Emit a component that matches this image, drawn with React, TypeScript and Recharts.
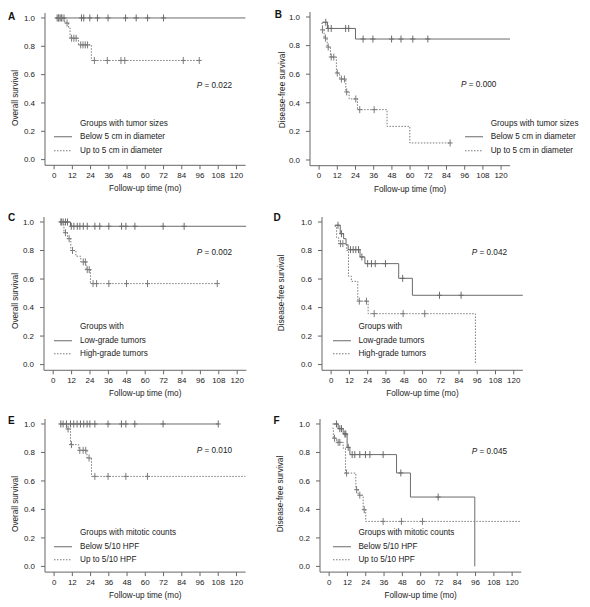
import { LineChart, Line, XAxis, YAxis } from "recharts";

// each row: [months, survival, censored (1 = tick mark)]
type Row = [number, number, number];

const monthTicks = [0, 12, 24, 36, 48, 60, 72, 84, 96, 108, 120];
const survTicks = [0, 0.2, 0.4, 0.6, 0.8, 1.0];

const sizeGroups = ["Below 5 cm in diameter", "Up to 5 cm in diameter"];
const gradeGroups = ["Low-grade tumors", "High-grade tumors"];
const mitosisGroups = ["Below 5/10 HPF", "Up to 5/10 HPF"];

const pValues = ["0.022", "0.000", "0.002", "0.042", "0.010", "0.045"];

// A - overall survival by tumor size
const aBelow: Row[] = [
  [1, 1, 0], [2, 1, 1], [3, 1, 1], [4, 1, 1], [5, 1, 1], [6.5, 1, 1],
  [18, 1, 1], [19.5, 1, 1], [23.5, 1, 1], [28.5, 1, 1], [35.5, 1, 1],
  [47, 1, 1], [54, 1, 1], [61.5, 1, 1], [72, 1, 1], [126, 1, 0],
];
const aUpTo: Row[] = [
  [1, 1, 0], [3, 1, 1], [5, 1, 1], [7, 0.964, 0], [8.5, 0.964, 1],
  [9.5, 0.93, 0], [10.5, 0.857, 0], [11.5, 0.857, 1], [13, 0.857, 1],
  [14.5, 0.857, 1], [16, 0.81, 0], [17.5, 0.81, 1], [19, 0.81, 1],
  [20.5, 0.81, 1], [22, 0.81, 1], [24.5, 0.7, 0], [26.5, 0.7, 1],
  [35, 0.7, 1], [44, 0.7, 1], [46.5, 0.7, 1], [85, 0.7, 1], [95.5, 0.7, 1],
];

// B - disease-free survival by tumor size
const bBelow: Row[] = [
  [2, 0.963, 0], [4.4, 0.963, 1], [5.5, 0.92, 0], [6, 0.92, 1], [8, 0.92, 1],
  [17.5, 0.92, 1], [19.5, 0.92, 1], [24, 0.846, 0], [29, 0.846, 1],
  [35.5, 0.846, 1], [47.8, 0.846, 1], [54, 0.846, 1], [61.8, 0.846, 1],
  [71.7, 0.846, 1], [126, 0.846, 0],
];
const bUpTo: Row[] = [
  [1.5, 0.955, 0], [2.2, 0.91, 1], [3.3, 0.853, 0], [4.2, 0.853, 1],
  [5.3, 0.79, 0], [6, 0.79, 1], [7.5, 0.72, 0], [8, 0.72, 1], [9.7, 0.72, 1],
  [11.4, 0.608, 0], [12, 0.608, 1], [13.6, 0.566, 0], [14.7, 0.566, 1],
  [16.7, 0.566, 1], [17.6, 0.476, 0], [18.2, 0.476, 1], [19.8, 0.427, 0],
  [24.2, 0.427, 1], [25.3, 0.352, 0], [26.8, 0.352, 1], [36.3, 0.352, 1],
  [44.8, 0.235, 0], [59.8, 0.119, 0], [86.4, 0.119, 1],
];

// C - overall survival by grade
const cLow: Row[] = [
  [4.3, 1, 0], [5, 1, 1], [6.5, 1, 1], [8, 1, 1], [9.3, 1, 1],
  [11.3, 0.97, 0], [11.8, 0.97, 1], [13.5, 0.97, 1], [15.7, 0.97, 1],
  [17.4, 0.97, 1], [19.6, 0.97, 1], [22.2, 0.97, 1], [27.2, 0.97, 1],
  [30.4, 0.97, 1], [36.3, 0.97, 1], [44.6, 0.97, 1], [47.4, 0.97, 1],
  [53.3, 0.97, 1], [71.7, 0.97, 1], [85.4, 0.97, 1], [126, 0.97, 0],
];
const cHigh: Row[] = [
  [4.3, 1, 0], [5.5, 1, 1], [7, 0.925, 0], [8, 0.925, 1], [9.3, 0.883, 0],
  [10.4, 0.883, 1], [11.5, 0.8, 0], [12.6, 0.8, 1], [14.8, 0.76, 0],
  [18, 0.72, 0], [19.6, 0.72, 1], [21, 0.72, 1], [21.5, 0.666, 0],
  [22.2, 0.666, 1], [23.5, 0.666, 1], [24.3, 0.568, 0], [26, 0.568, 1],
  [28.3, 0.568, 1], [36.3, 0.568, 1], [47.8, 0.568, 1], [61.5, 0.568, 1],
  [107, 0.568, 1],
];

// D - disease-free survival by grade
const dLow: Row[] = [
  [2.3, 0.977, 0], [4.5, 0.977, 1], [6, 0.918, 0], [6.8, 0.918, 1],
  [8.2, 0.883, 0], [9.8, 0.84, 0], [11.2, 0.806, 0], [12.7, 0.806, 1],
  [14.5, 0.806, 1], [16.2, 0.806, 1], [18, 0.806, 1], [19, 0.755, 0],
  [20.2, 0.755, 1], [22.2, 0.708, 0], [24, 0.708, 1], [26.5, 0.708, 1],
  [29, 0.708, 1], [35.7, 0.708, 1], [44.4, 0.605, 0], [47, 0.605, 1],
  [53.4, 0.486, 0], [71.2, 0.486, 1], [85.4, 0.486, 1], [126, 0.486, 0],
];
const dHigh: Row[] = [
  [2.3, 0.97, 0], [3.6, 0.89, 0], [5, 0.848, 0], [6.1, 0.848, 1],
  [7.7, 0.848, 1], [10.2, 0.8, 0], [11.4, 0.62, 0], [13.3, 0.584, 0],
  [17.5, 0.445, 0], [18.5, 0.445, 1], [23.2, 0.445, 1], [24.3, 0.357, 0],
  [28.3, 0.357, 1], [47.3, 0.357, 1], [61.5, 0.357, 1], [94.8, 0, 0],
];

// E - overall survival by mitotic count
const eBelow: Row[] = [
  [3.7, 1, 0], [4.4, 1, 1], [5.9, 1, 1], [8.1, 1, 1], [10.8, 1, 1],
  [12.9, 1, 1], [15.1, 1, 1], [17.3, 1, 1], [19.5, 1, 1], [21.7, 1, 1],
  [23.5, 1, 1], [26.8, 1, 1], [35.5, 1, 1], [44.3, 1, 1], [47.2, 1, 1],
  [53.1, 1, 1], [71.7, 1, 1], [108, 1, 1],
];
const eUpTo: Row[] = [
  [3.7, 1, 0], [8.1, 0.965, 0], [9.2, 0.965, 1], [10.8, 0.855, 0],
  [11.4, 0.855, 1], [16.2, 0.815, 0], [16.9, 0.815, 1], [19.1, 0.815, 1],
  [20.8, 0.815, 1], [21.6, 0.761, 0], [23, 0.761, 1], [24.6, 0.632, 0],
  [26.8, 0.632, 1], [35.5, 0.632, 1], [47.2, 0.632, 1], [61.4, 0.632, 1],
  [126, 0.632, 0],
];

// F - disease-free survival by mitotic count
const fBelow: Row[] = [
  [2.2, 1, 0], [4.8, 1, 1], [5.9, 0.967, 0], [7, 0.967, 1], [8.1, 0.967, 1],
  [9.2, 0.93, 0], [10.3, 0.93, 1], [10.9, 0.93, 1], [11.8, 0.836, 0],
  [12.5, 0.836, 1], [13.6, 0.785, 0], [15.1, 0.785, 1], [16.8, 0.785, 1],
  [20.1, 0.785, 1], [23.8, 0.785, 1], [26.7, 0.785, 1], [35.4, 0.785, 1],
  [44.2, 0.656, 0], [47, 0.656, 1], [53.3, 0.487, 0], [71.5, 0.487, 1],
  [95.5, 0, 0],
];
const fUpTo: Row[] = [
  [2.2, 0.97, 0], [2.8, 0.9, 0], [3.5, 0.9, 1], [4.8, 0.871, 0],
  [5.9, 0.871, 1], [7, 0.871, 1], [9.2, 0.83, 0], [10.7, 0.655, 0],
  [11.4, 0.655, 1], [17.5, 0.539, 0], [18, 0.539, 1], [19, 0.5, 0],
  [20.1, 0.5, 1], [22.3, 0.398, 0], [23, 0.398, 1], [24, 0.316, 0],
  [35.4, 0.316, 1], [47.4, 0.316, 1], [61.2, 0.316, 1], [126, 0.316, 0],
];

const FONT = "'Liberation Sans', Arial, sans-serif";
const TEXT = "#222";
const AXIS = "#666";
const SOLID = "#6a6a6a";
const DOTTED = "#7a7a7a";

const X_DOMAIN = [-6, 126];
const Y_DOMAIN = [-0.04, 1.035];

type Panel = {
  letter: string;
  yTitle: string;
  legendTitle: string;
  groups: string[];
  p: string;
  solid: Row[];
  dotted: Row[];
  plot: { x: number; y: number; w: number; h: number };
  letterAt: [number, number];
  yTitleAt: [number, number];
  pAt: [number, number];
  legendAt: [number, number];
};

const panels: Panel[] = [
  {
    letter: "A", yTitle: "Overall survival", legendTitle: "Groups with tumor sizes",
    groups: sizeGroups, p: pValues[0], solid: aBelow, dotted: aUpTo,
    plot: { x: 45.2, y: 13.3, w: 200.6, h: 152.3 },
    letterAt: [8, 17], yTitleAt: [15.5, 98], pAt: [196.7, 85.7], legendAt: [54.3, 123.5],
  },
  {
    letter: "B", yTitle: "Disease-free survival", legendTitle: "Groups with tumor sizes",
    groups: sizeGroups, p: pValues[1], solid: bBelow, dotted: bUpTo,
    plot: { x: 310.2, y: 12.3, w: 200.2, h: 153.7 },
    letterAt: [274.7, 15], yTitleAt: [283, 90], pAt: [461, 85], legendAt: [465, 123.5],
  },
  {
    letter: "C", yTitle: "Overall survival", legendTitle: "Groups with",
    groups: gradeGroups, p: pValues[2], solid: cLow, dotted: cHigh,
    plot: { x: 44.1, y: 216.7, w: 202.4, h: 153.3 },
    letterAt: [8, 217.7], yTitleAt: [15.5, 301], pAt: [196.7, 252.7], legendAt: [54.3, 327],
  },
  {
    letter: "D", yTitle: "Disease-free survival", legendTitle: "Groups with",
    groups: gradeGroups, p: pValues[3], solid: dLow, dotted: dHigh,
    plot: { x: 321.6, y: 216.7, w: 200.9, h: 153.3 },
    letterAt: [273.5, 217.7], yTitleAt: [282, 292.6], pAt: [471.7, 252.7], legendAt: [332.7, 327.3],
  },
  {
    letter: "E", yTitle: "Overall survival", legendTitle: "Groups with mitotic counts",
    groups: mitosisGroups, p: pValues[4], solid: eBelow, dotted: eUpTo,
    plot: { x: 45.2, y: 419.3, w: 200.6, h: 153.1 },
    letterAt: [8, 421], yTitleAt: [15.5, 504], pAt: [196.7, 451], legendAt: [54.3, 533],
  },
  {
    letter: "F", yTitle: "Disease-free survival", legendTitle: "Groups with mitotic counts",
    groups: mitosisGroups, p: pValues[5], solid: fBelow, dotted: fUpTo,
    plot: { x: 320.1, y: 419.3, w: 201.3, h: 153.1 },
    letterAt: [273.5, 421], yTitleAt: [281, 494], pAt: [471.7, 451.7], legendAt: [332.7, 533],
  },
];

const toPoints = (rows: Row[]) => rows.map(([t, s, c]) => ({ t, s, c }));

// censored cases drawn as small "+" marks on the step line
function censorMark(color: string) {
  return (props: any) => {
    const { cx, cy, payload, index } = props;
    if (!payload || payload.c !== 1 || cx == null || cy == null) {
      return <g key={`n-${index}`} />;
    }
    return (
      <g key={`c-${index}`}>
        <line x1={cx} x2={cx} y1={cy - 3.5} y2={cy + 3.5} stroke={color} strokeWidth={1} />
        <line x1={cx - 2.5} x2={cx + 2.5} y1={cy} y2={cy} stroke={color} strokeWidth={1} />
      </g>
    );
  };
}

const centerY = (cy: number): React.CSSProperties => ({
  position: "absolute",
  top: cy,
  transform: "translateY(-50%)",
  lineHeight: 1,
  whiteSpace: "nowrap",
});

function KmPanel({ panel }: { panel: Panel }) {
  const { plot } = panel;
  const [lx, ly] = panel.legendAt;
  return (
    <>
      <div style={{ position: "absolute", left: plot.x - 40, top: plot.y - 10 }}>
        <LineChart
          width={plot.w + 50}
          height={plot.h + 50}
          margin={{ top: 10, right: 10, bottom: 0, left: 0 }}
        >
          <XAxis
            type="number"
            dataKey="t"
            domain={X_DOMAIN}
            ticks={monthTicks}
            interval={0}
            allowDataOverflow
            height={40}
            tickSize={4}
            tickMargin={3}
            stroke={AXIS}
            tick={{ fill: TEXT, fontSize: 8, fontFamily: FONT }}
            label={{
              value: "Follow-up time (mo)",
              position: "insideBottom",
              offset: 14,
              fill: TEXT,
              fontSize: 8.2,
              fontFamily: FONT,
            }}
          />
          <YAxis
            type="number"
            domain={Y_DOMAIN}
            ticks={survTicks}
            interval={0}
            allowDataOverflow
            width={40}
            tickSize={4}
            tickMargin={6}
            stroke={AXIS}
            tickFormatter={(v: number) => v.toFixed(1)}
            tick={{ fill: TEXT, fontSize: 8, fontFamily: FONT }}
          />
          <Line
            data={toPoints(panel.solid)}
            dataKey="s"
            type="stepAfter"
            stroke={SOLID}
            strokeWidth={1}
            dot={censorMark(SOLID)}
            activeDot={false}
            isAnimationActive={false}
          />
          <Line
            data={toPoints(panel.dotted)}
            dataKey="s"
            type="stepAfter"
            stroke={DOTTED}
            strokeWidth={1}
            strokeDasharray="1.5 1.5"
            dot={censorMark(DOTTED)}
            activeDot={false}
            isAnimationActive={false}
          />
        </LineChart>
      </div>

      {/* panel letter */}
      <div
        style={{
          ...centerY(panel.letterAt[1]),
          left: panel.letterAt[0],
          fontWeight: "bold",
          fontSize: 10,
          color: "#111",
        }}
      >
        {panel.letter}
      </div>

      {/* y-axis title */}
      <div
        style={{
          position: "absolute",
          left: panel.yTitleAt[0],
          top: panel.yTitleAt[1],
          transform: "translate(-50%, -50%) rotate(-90deg)",
          whiteSpace: "nowrap",
          lineHeight: 1,
          fontSize: 8.2,
        }}
      >
        {panel.yTitle}
      </div>

      {/* log-rank p value */}
      <div style={{ ...centerY(panel.pAt[1]), left: panel.pAt[0], fontSize: 8.2 }}>
        <i>P</i> = {panel.p}
      </div>

      {/* legend */}
      <div style={{ ...centerY(ly), left: lx + 25.7, fontSize: 8.2 }}>{panel.legendTitle}</div>
      {panel.groups.map((g, i) => (
        <div key={g} style={{ ...centerY(ly + 13.5 * (i + 1)), left: lx, fontSize: 8.2 }}>
          <svg width={20} height={6} style={{ verticalAlign: "middle", marginRight: 5.7 }}>
            <line
              x1={0}
              x2={18}
              y1={3}
              y2={3}
              stroke={i === 0 ? SOLID : DOTTED}
              strokeWidth={1}
              strokeDasharray={i === 0 ? undefined : "1.5 1.5"}
            />
          </svg>
          <span style={{ verticalAlign: "middle" }}>{g}</span>
        </div>
      ))}
    </>
  );
}

export default function App() {
  return (
    <div
      style={{
        position: "absolute",
        left: 0,
        top: 0,
        width: 590,
        height: 607,
        background: "#fff",
        fontFamily: FONT,
        color: TEXT,
        overflow: "hidden",
      }}
    >
      {panels.map((p) => (
        <KmPanel key={p.letter} panel={p} />
      ))}
    </div>
  );
}
